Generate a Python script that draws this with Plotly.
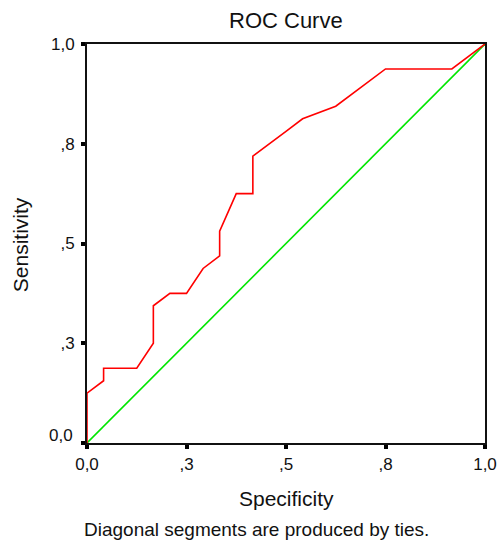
import plotly.graph_objects as go

# ROC curve points (x = 1 - specificity as plotted, y = sensitivity)
roc_x = [0.0, 0.0, 0.0417, 0.0417, 0.0833, 0.125, 0.1667, 0.1667, 0.2083, 0.25,
         0.2917, 0.3333, 0.3333, 0.375, 0.4167, 0.4167, 0.5, 0.5417, 0.625,
         0.7083, 0.75, 0.875, 0.9167, 1.0]
roc_y = [0.0, 0.125, 0.156, 0.1875, 0.1875, 0.1875, 0.25, 0.344, 0.375, 0.375,
         0.4375, 0.469, 0.531, 0.625, 0.625, 0.719, 0.781, 0.8125, 0.844,
         0.906, 0.9375, 0.9375, 0.9375, 1.0]
ref_x = [0.0, 1.0]
ref_y = [0.0, 1.0]

tick_vals = [0.0, 0.25, 0.5, 0.75, 1.0]
tick_text = ["0,0", ",3", ",5", ",8", "1,0"]
ytick_text = ["", ",3", ",5", ",8", "1,0"]

FONT = "Liberation Sans, Arial, Helvetica, sans-serif"
TXT = "#111111"

fig = go.Figure()
fig.add_trace(go.Scatter(x=ref_x, y=ref_y, mode="lines",
                         line=dict(color="#00e600", width=1.6), hoverinfo="skip"))
fig.add_trace(go.Scatter(x=roc_x, y=roc_y, mode="lines",
                         line=dict(color="#ff0000", width=1.6), hoverinfo="skip"))

axis_common = dict(range=[0, 1], showgrid=False, zeroline=False, automargin=False,
                   showline=True, linecolor="#111111", linewidth=2, mirror=True,
                   ticks="outside", ticklen=4, tickwidth=4, tickcolor="#000000",
                   tickvals=tick_vals,
                   tickfont=dict(family=FONT, size=17, color=TXT),
                   fixedrange=True)

fig.update_layout(
    width=500, height=543,
    margin=dict(l=87, r=15, t=44, b=100),
    paper_bgcolor="white", plot_bgcolor="white",
    showlegend=False,
    xaxis=dict(**axis_common, ticktext=tick_text, ticklabelstandoff=1),
    yaxis=dict(**axis_common, ticktext=ytick_text, ticklabelstandoff=3),
    annotations=[
        dict(text="ROC Curve", x=0.5, y=1.060, xref="paper", yref="paper",
             xanchor="center", yanchor="middle", showarrow=False,
             font=dict(family=FONT, size=22, color=TXT)),
        dict(text="Sensitivity", x=-0.168, y=0.496, xref="paper", yref="paper",
             xanchor="center", yanchor="middle", showarrow=False, textangle=-90,
             font=dict(family=FONT, size=21, color=TXT)),
        dict(text="Specificity", x=0.502, y=-0.138, xref="paper", yref="paper",
             xanchor="center", yanchor="middle", showarrow=False,
             font=dict(family=FONT, size=21, color=TXT)),
        dict(text="Diagonal segments are produced by ties.", x=0.426, y=-0.218,
             xref="paper", yref="paper", xanchor="center", yanchor="middle",
             showarrow=False, font=dict(family=FONT, size=19, color=TXT)),
        dict(text="0,0", x=-0.030, y=0.020, xref="paper", yref="paper",
             xanchor="right", yanchor="middle", showarrow=False,
             font=dict(family=FONT, size=17, color=TXT)),
    ],
)

fig.write_html("out.html")
